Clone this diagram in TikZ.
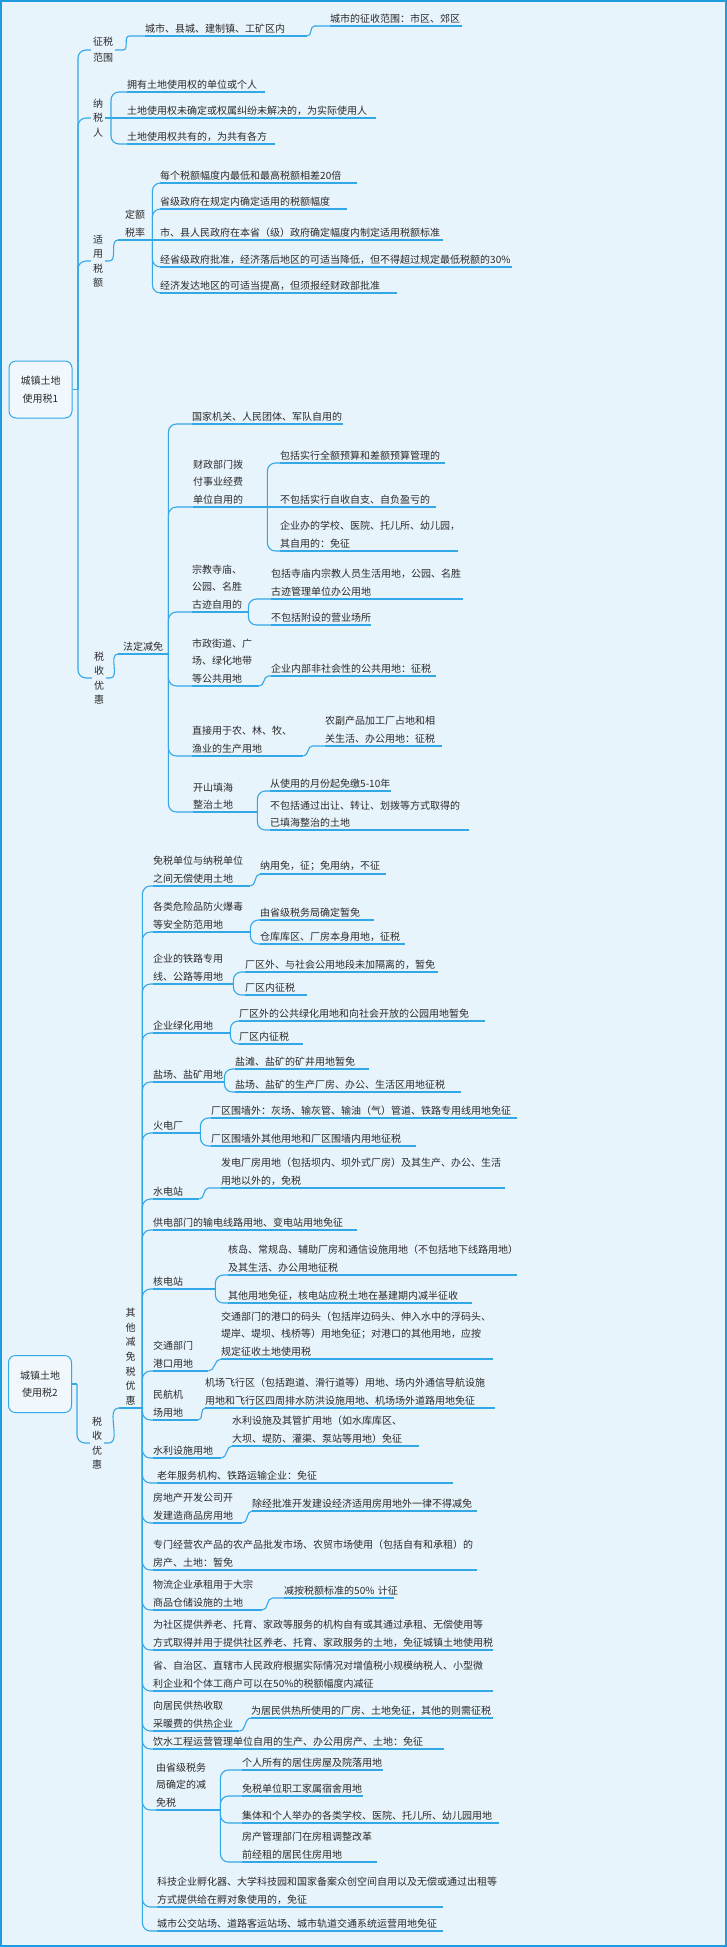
\documentclass[tikz,border=0pt]{standalone}
\usepackage{fontspec}
\setmainfont{Noto Sans CJK SC}
\usepackage{xcolor}
\usepackage{tikz}
\usetikzlibrary{positioning}
\definecolor{MapBg}{HTML}{E8F4FC}
\definecolor{MapLine}{HTML}{33A8E6}
\definecolor{MapFrame}{HTML}{1E9CDF}
\definecolor{MapInk}{HTML}{2A2A2A}
\newcommand{\maptext}{\fontsize{10}{17.5}\selectfont}

\begin{document}
\begin{tikzpicture}[x=1pt, y=-1pt,
  root/.style={draw=MapLine, line width=1pt, rounded corners=7pt, fill=white!40!MapBg, minimum width=63pt, minimum height=57pt, align=center, font=\maptext, text=MapInk},
  vlab/.style={align=center, inner xsep=2pt, inner ysep=0pt, font=\fontsize{10}{14.5}\selectfont, text=MapInk},
  item/.style={anchor=south west, inner xsep=0pt, inner ysep=2.5pt, text width=#1pt, align=left, font=\maptext, text=MapInk},
  stem/.style={draw=MapLine, line width=1.1pt},
  link/.style={stem, rounded corners=8pt}]
\fill[MapBg] (0,0) rectangle (727,1947);
\draw[MapFrame, line width=2pt] (1,1) rectangle (726,1946);
\useasboundingbox (0,0) rectangle (727,1947);

% first map
\node[root] (r1) at (40.5,389.5) {城镇土地\\使用税1};
\coordinate (r1t) at (78,389.5);
\node[vlab, font=\fontsize{10}{16}\selectfont] (zsfw) at (103,50) {征税\\范围};
\node[vlab] (nsr) at (98,118) {纳\\税\\人};
\node[vlab] (syse) at (98,261) {适\\用\\税\\额};
\node[vlab] (ssyh1) at (99,678) {税\\收\\优\\惠};

\node[item=162] (c1) at (145,36) {城市、县城、建制镇、工矿区内};
\node[item=132] (c1a) at (330,26) {城市的征收范围：市区、郊区};

\coordinate (nsrt) at (111,118);
\node[item=138] (n1) at (127,92) {拥有土地使用权的单位或个人};
\node[item=249] (n2) at (127,118) {土地使用权未确定或权属纠纷未解决的，为实际使用人};
\node[item=148] (n3) at (127,144) {土地使用权共有的，为共有各方};

\node[item=34, align=center, font=\fontsize{10}{18}\selectfont] (dese) at (118,240) {定额\\税率};
\node[item=197] (d1) at (160,183) {每个税额幅度内最低和最高税额相差20倍};
\node[item=187] (d2) at (160,209) {省级政府在规定内确定适用的税额幅度};
\node[item=283] (d3) at (160,240) {市、县人民政府在本省（级）政府确定幅度内制定适用税额标准};
\node[item=352] (d4) at (160,267) {经省级政府批准，经济落后地区的可适当降低，但不得超过规定最低税额的30\%};
\node[item=237] (d5) at (160,293) {经济发达地区的可适当提高，但须报经财政部批准};

\node[item=50, align=center] (fdjm) at (118,654) {法定减免};
\node[item=151] (f1) at (192,424) {国家机关、人民团体、军队自用的};
\node[item=74] (f2) at (193,507) {财政部门拨\\付事业经费\\单位自用的};
\node[item=56] (f3) at (192,612) {宗教寺庙、\\公园、名胜\\古迹自用的};
\node[item=67] (f4) at (192,686) {市政街道、广\\场、绿化地带\\等公共用地};
\node[item=111] (f5) at (192,756) {直接用于农、林、牧、\\渔业的生产用地};
\node[item=64] (f6) at (193,812) {开山填海\\整治土地};
\node[item=165] (f21) at (280,463) {包括实行全额预算和差额预算管理的};
\node[item=156] (f22) at (280,507) {不包括实行自收自支、自负盈亏的};
\node[item=178] (f23) at (280,551) {企业办的学校、医院、托儿所、幼儿园，\\其自用的：免征};
\node[item=192] (f31) at (271,599) {包括寺庙内宗教人员生活用地，公园、名胜\\古迹管理单位办公用地};
\node[item=100] (f32) at (271,625) {不包括附设的营业场所};
\node[item=165] (f41) at (271,676) {企业内部非社会性的公共用地：征税};
\node[item=117] (f51) at (325,746) {农副产品加工厂占地和相\\关生活、办公用地：征税};
\node[item=121] (f61) at (270,791) {从使用的月份起免缴5-10年};
\node[item=199] (f62) at (270,830) {不包括通过出让、转让、划拨等方式取得的\\已填海整治的土地};

\draw[stem] (r1.east) -- (r1t);
\foreach \n in {zsfw,nsr,syse,ssyh1} \draw[link] (r1t) |- (\n.west);
\draw[stem] (zsfw.east) -- ++(8,0) to[out=0,in=180] ++(6,-14) -- (c1.south west);
\draw[stem] (c1.south east) to[out=0,in=180] ++(7,-10) -- (c1a.south west);
\draw[stem] (nsr.east) -- (n2.south west);
\foreach \n in {n1,n3} \draw[link] (nsrt) |- (\n.south west);
\draw[stem] (syse.east) -- ++(4,0) to[out=0,in=180] (dese.south west);
\draw[stem] (dese.south east) -- (d3.south west);
\foreach \n in {d1,d2,d4,d5} \draw[link] (dese.south east) |- (\n.south west);
\draw[stem] (ssyh1.east) -- ++(4,0) to[out=0,in=180] (fdjm.south west);
\foreach \n in {f1,f2,f3,f4,f5,f6} \draw[link] (fdjm.south east) |- (\n.south west);
\draw[stem] (f2.south east) -- (f22.south west);
\foreach \n in {f21,f23} \draw[link] (f2.south east) |- (\n.south west);
\foreach \n in {f31,f32} \draw[link] (f3.south east) |- (\n.south west);
\draw[stem] (f4.south east) to[out=0,in=180] ++(9,-10) -- (f41.south west);
\draw[stem] (f5.south east) to[out=0,in=180] ++(9,-10) -- (f51.south west);
\foreach \n in {f61,f62} \draw[link] (f6.south east) |- (\n.south west);

% second map
\node[root] (r2) at (40,1384) {城镇土地\\使用税2};
\coordinate (r2t) at (77,1384);
\node[vlab] (ssyh2) at (97,1443) {税\\收\\优\\惠};
\node[item=23, align=center, font=\fontsize{10}{14.7}\selectfont] (qtjm) at (119,1408) {其\\他\\减\\免\\税\\优\\惠};

\node[item=97] (g1) at (153,886) {免税单位与纳税单位\\之间无偿使用土地};
\node[item=126] (g1a) at (260,874) {纳用免，征；免用纳，不征};
\node[item=97] (g2) at (153,932) {各类危险品防火爆毒\\等安全防范用地};
\node[item=114] (g2a) at (260,920) {由省级税务局确定暂免};
\node[item=145] (g2b) at (260,944) {仓库库区、厂房本身用地，征税};
\node[item=80] (g3) at (153,984) {企业的铁路专用\\线、公路等用地};
\node[item=193] (g3a) at (245,972) {厂区外、与社会公用地段未加隔离的，暂免};
\node[item=62] (g3b) at (245,995) {厂区内征税};
\node[item=77] (g4) at (153,1033) {企业绿化用地};
\node[item=246] (g4a) at (239,1021) {厂区外的公共绿化用地和向社会开放的公园用地暂免};
\node[item=64] (g4b) at (239,1044) {厂区内征税};
\node[item=71] (g5) at (153,1082) {盐场、盐矿用地};
\node[item=134] (g5a) at (235,1069) {盐滩、盐矿的矿井用地暂免};
\node[item=226] (g5b) at (235,1092) {盐场、盐矿的生产厂房、办公、生活区用地征税};
\node[item=47] (g6) at (153,1133) {火电厂};
\node[item=306] (g6a) at (211,1118) {厂区围墙外：灰场、输灰管、输油（气）管道、铁路专用线用地免征};
\node[item=205] (g6b) at (211,1146) {厂区围墙外其他用地和厂区围墙内用地征税};
\node[item=46] (g7) at (153,1199) {水电站};
\node[item=284] (g7a) at (221,1188) {发电厂房用地（包括坝内、坝外式厂房）及其生产、办公、生活\\用地以外的，免税};
\node[item=204] (g8) at (153,1230) {供电部门的输电线路用地、变电站用地免征};
\node[item=62] (g9) at (153,1289) {核电站};
\node[item=289] (g9a) at (228,1275) {核岛、常规岛、辅助厂房和通信设施用地（不包括地下线路用地）\\及其生活、办公用地征税};
\node[item=244] (g9b) at (228,1303) {其他用地免征，核电站应税土地在基建期内减半征收};
\node[item=55] (g10) at (153,1371) {交通部门\\港口用地};
\node[item=272] (g10a) at (221,1359) {交通部门的港口的码头（包括岸边码头、伸入水中的浮码头、\\堤岸、堤坝、栈桥等）用地免征；对港口的其他用地，应按\\规定征收土地使用税};
\node[item=45] (g11) at (153,1420) {民航机\\场用地};
\node[item=290] (g11a) at (205,1408) {机场飞行区（包括跑道、滑行道等）用地、场内外通信导航设施\\用地和飞行区四周排水防洪设施用地、机场场外道路用地免征};
\node[item=68] (g12) at (153,1458) {水利设施用地};
\node[item=187] (g12a) at (232,1446) {水利设施及其管扩用地（如水库库区、\\大坝、堤防、灌渠、泵站等用地）免征};
\node[item=296] (g13) at (157,1483) {老年服务机构、铁路运输企业：免征};
\node[item=89] (g14) at (153,1523) {房地产开发公司开\\发建造商品房用地};
\node[item=225] (g14a) at (252,1511) {除经批准开发建设经济适用房用地外一律不得减免};
\node[item=324] (g15) at (153,1570) {专门经营农产品的农产品批发市场、农贸市场使用（包括自有和承租）的\\房产、土地：暂免};
\node[item=109] (g16) at (153,1610) {物流企业承租用于大宗\\商品仓储设施的土地};
\node[item=110] (g16a) at (284,1598) {减按税额标准的50\%~计征};
\node[item=340] (g17) at (153,1650) {为社区提供养老、托育、家政等服务的机构自有或其通过承租、无偿使用等\\方式取得并用于提供社区养老、托育、家政服务的土地，免征城镇土地使用税};
\node[item=340] (g18) at (153,1691) {省、自治区、直辖市人民政府根据实际情况对增值税小规模纳税人、小型微\\利企业和个体工商户可以在50\%的税额幅度内减征};
\node[item=86] (g19) at (153,1731) {向居民供热收取\\采暖费的供热企业};
\node[item=242] (g19a) at (251,1718) {为居民供热所使用的厂房、土地免征，其他的则需征税};
\node[item=291] (g20) at (153,1749) {饮水工程运营管理单位自用的生产、办公用房产、土地：免征};
\node[item=64] (g21) at (156,1810) {由省级税务\\局确定的减\\免税};
\node[item=141] (g21a) at (242,1770) {个人所有的居住房屋及院落用地};
\node[item=121] (g21b) at (242,1796) {免税单位职工家属宿舍用地};
\node[item=257] (g21c) at (242,1823) {集体和个人举办的各类学校、医院、托儿所、幼儿园用地};
\node[item=135] (g21d) at (242,1862) {房产管理部门在房租调整改革\\前经租的居民住房用地};
\node[item=286] (g22) at (157,1907) {科技企业孵化器、大学科技园和国家备案众创空间自用以及无偿或通过出租等\\方式提供给在孵对象使用的，免征};
\node[item=286] (g23) at (157,1931) {城市公交站场、道路客运站场、城市轨道交通系统运营用地免征};

\draw[stem] (r2.east) -- (r2t);
\draw[link] (r2t) |- (ssyh2.west);
\draw[stem] (ssyh2.east) -- ++(4,0) to[out=0,in=180] (qtjm.south west);
\foreach \n in {1,...,23} \draw[link] (qtjm.south east) |- (g\n.south west);
\draw[stem] (g1.south east) to[out=0,in=180] (g1a.south west);
\foreach \n in {g2a,g2b} \draw[link] (g2.south east) |- (\n.south west);
\foreach \n in {g3a,g3b} \draw[link] (g3.south east) |- (\n.south west);
\foreach \n in {g4a,g4b} \draw[link] (g4.south east) |- (\n.south west);
\foreach \n in {g5a,g5b} \draw[link] (g5.south east) |- (\n.south west);
\foreach \n in {g6a,g6b} \draw[link] (g6.south east) |- (\n.south west);
\draw[stem] (g7.south east) to[out=0,in=180] ++(9,-11) -- (g7a.south west);
\foreach \n in {g9a,g9b} \draw[link] (g9.south east) |- (\n.south west);
\draw[stem] (g10.south east) to[out=0,in=180] (g10a.south west);
\draw[stem] (g11.south east) to[out=0,in=180] (g11a.south west);
\draw[stem] (g12.south east) to[out=0,in=180] (g12a.south west);
\draw[stem] (g14.south east) to[out=0,in=180] (g14a.south west);
\draw[stem] (g16.south east) to[out=0,in=180] ++(10,-12) -- (g16a.south west);
\draw[stem] (g19.south east) to[out=0,in=180] (g19a.south west);
\foreach \n in {g21a,g21b,g21c,g21d} \draw[link] (g21.south east) |- (\n.south west);

% underlines
\foreach \n in {c1,c1a,n1,n2,n3,dese,d1,d2,d3,d4,d5,fdjm,f1,f2,f3,f4,f5,f6,f21,f22,f23,f31,f32,f41,f51,f61,f62,qtjm,
  g1a,g2a,g2b,g3a,g3b,g4a,g4b,g5a,g5b,g6a,g6b,g7a,g9a,g9b,g10a,g11a,g12a,g14a,g16a,g19a,g21a,g21b,g21c,g21d}
  \draw[stem] (\n.south west) -- (\n.south east);
\foreach \n in {1,...,23} \draw[stem] (g\n.south west) -- (g\n.south east);
\end{tikzpicture}
\end{document}
